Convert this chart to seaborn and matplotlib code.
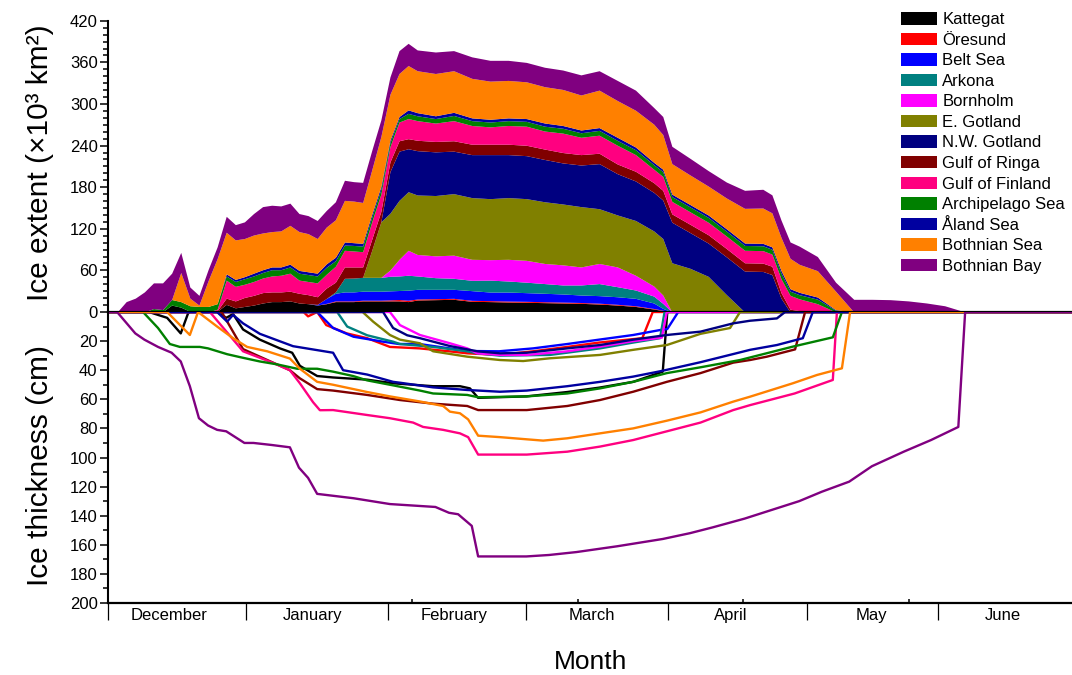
import matplotlib
matplotlib.use("Agg")
import numpy as np
import pandas as pd
import matplotlib.pyplot as plt
from matplotlib.patches import Patch
from matplotlib.ticker import MultipleLocator, FixedLocator, NullFormatter
import seaborn as sns

# ---------------------------------------------------------------- basins
basins = ["Kattegat", "Öresund", "Belt Sea", "Arkona", "Bornholm", "E. Gotland",
          "N.W. Gotland", "Gulf of Ringa", "Gulf of Finland", "Archipelago Sea",
          "Åland Sea", "Bothnian Sea", "Bothnian Bay"]
colors = ["#000000", "#FF0000", "#0000FF", "#008080", "#FF00FF", "#808000",
          "#000080", "#800000", "#FF0080", "#008000", "#0000A0", "#FF8000", "#800080"]

# ------------------------------------------- ice extent (10^3 km^2) per basin
# days counted from 1 December
ext_day = [0, 2, 4, 6, 8, 10, 12, 14, 16, 18, 20, 22, 24, 26, 28, 30, 32, 34, 36, 38,
           40, 42, 44, 46, 48, 50, 52, 54, 56, 58, 60, 62, 64, 66,
           68, 72, 76, 80, 84, 88, 92, 96, 100, 104, 108, 112, 116, 120,
           122, 124, 128, 132, 136, 140, 144, 146, 148, 150, 152,
           156, 160, 164, 168, 172, 176, 180, 184, 188, 190]

ext_kattegat = [0, 0, 0, 0, 0, 2, 0.5, 10, 7, 1, 0, 0, 1, 11, 6, 8, 10, 13, 15, 15,
                16, 13, 12, 10, 12, 15, 15, 15, 16, 16, 16, 16, 16, 15,
                17.3, 17.8, 18.3, 15.4, 15, 14.4, 14, 13.5, 13, 12.5, 11.5, 10, 8, 4.3,
                2, 0, 0, 0, 0, 0, 0, 0, 0, 0, 0,
                0, 0, 0, 0, 0, 0, 0, 0, 0, 0]
ext_oresund = [0] * 24 + [0.5, 1, 1, 1, 1, 1, 1, 1.5, 2, 2] + \
              [1.4, 1.4, 1.4, 1.4, 1.4, 1.4, 1.4, 1.3, 1.3, 1.2, 1.2, 1.1, 1, 0.8] + \
              [0.5] + [0] * 20
ext_belt = [0] * 23 + [1, 7, 11, 13, 13, 13, 13, 13, 13, 13, 14.5] + \
           [14, 13.5, 13, 14, 12.4, 13, 12.5, 12.2, 11.7, 10.8, 10.9, 10.9, 10.7, 7.9] + \
           [2.8] + [0] * 20
ext_arkona = [0] * 25 + [2, 19.6, 20, 20, 20, 20, 21, 21, 21.5] + \
             [19.3, 16.8, 15.9, 14.9, 17.2, 15.9, 15.1, 14, 13, 14.5, 17.4, 14.5, 12, 10] + \
             [7.2] + [0] * 20
ext_bornholm = [0] * 31 + [9, 24, 36] + \
               [31, 31.5, 33.4, 30.3, 29.5, 31.3, 31.5, 29, 29, 26, 29, 28.5, 21.3, 14.5] + \
               [12] + [0] * 20
ext_egotland = [0] * 29 + [39, 80, 82, 85, 84.5] + \
               [85.8, 87, 88.7, 89, 88, 89, 89, 89, 87.8, 87, 79, 75, 79, 79.5] + \
               [81.5, 71, 63, 51.4, 25, 0, 0] + [0] * 14
ext_nwgotland = [0] * 31 + [60, 71, 62] + \
                [63.9, 63, 61.3, 62, 63.5, 62, 62, 61, 59.2, 60, 65, 59.5, 57, 55.6] + \
                [55.5, 58.5, 51.5, 48, 54.5, 59, 58.5, 54, 20, 0, 0] + [0] * 10
ext_riga = [0] * 12 + [1, 9, 10, 13, 14, 15, 14, 14, 14, 14, 13, 11, 15, 14, 16.4, 16,
                       15, 16, 15, 14, 15, 14.5] + \
           [15, 15, 15, 15, 15, 15, 15, 15, 15, 15, 15, 14, 14, 14] + \
           [14, 12, 12, 12, 12, 12, 12, 12, 8, 4, 2] + [0] * 10
ext_finland = [0] * 12 + [2, 26, 21, 19, 20, 21, 23, 24, 26, 19, 19, 20, 20, 23, 24, 23,
                          22, 25, 25, 22, 27, 29] + \
              [28.3, 26.5, 29, 27, 25, 27, 27.5, 26, 28, 25, 26, 27, 24, 19.4] + \
              [20, 18, 18, 18, 18, 18, 18, 17.5, 20, 20, 17] + [12] + [0] * 9
ext_archipelago = [0] * 5 + [3, 3, 8, 8, 8, 8, 8, 8, 6, 7, 8, 8, 8, 9, 8, 9, 10, 10, 10,
                             10, 8, 7.6, 8, 8, 7, 7, 6, 5, 7.5] + \
                  [7, 6.5, 7.5, 7, 7, 7, 7, 7, 7, 6.5, 7, 7, 7, 6.5] + \
                  [7, 7, 7, 7, 7, 7, 7, 7, 8, 6, 6] + [6.5, 2.5] + [0] * 8
ext_aland = [0] * 13 + [3, 3, 3, 4, 4, 4, 4, 4, 4, 4, 4, 5, 5, 4.4, 4, 4, 4, 4, 3.5, 3, 5] + \
            [4.5, 4, 4.5, 4, 4, 4, 4, 4.6, 4, 4, 4, 4.5, 4, 3.5] + \
            [3.5, 3.5, 3.5, 3.5, 3.5, 3.5, 3.5, 3.5, 4, 3.6, 3.4] + [3.1, 0.9] + [0] * 8
ext_bothnian_sea = [0] * 8 + [42, 11, 2, 37, 65, 60, 57, 55, 55, 53, 51, 52, 56, 56, 55,
                              50, 53, 54, 60, 60, 59, 64, 72, 66, 62, 64] + \
                   [60.5, 61, 60, 57, 55, 54, 53, 52.4, 52, 50.5, 54, 53, 53, 55] + \
                   [50, 44, 42.6, 41.7, 44.4, 50, 51, 49, 47.7, 43.8, 40.4] + \
                   [38, 26.6] + [0] * 8
ext_bothnian_bay = [0, 0, 15, 20, 29, 37, 38.5, 38, 29, 16, 14, 16, 17, 23, 22, 24, 31, 38,
                    38, 36, 32, 26, 26, 26, 24, 26, 29, 28, 29, 28, 24, 25, 33, 32] + \
                   [30, 31, 29, 31, 30, 29, 28, 28, 28, 29, 28, 29, 29, 24] + \
                   [26, 25, 24, 22.3, 23, 26, 27, 26, 25, 23.6, 26.2] + \
                   [20.4, 13, 18.3, 18.3, 17.8, 16, 13, 9, 1, 0]

extent = [ext_kattegat, ext_oresund, ext_belt, ext_arkona, ext_bornholm, ext_egotland,
          ext_nwgotland, ext_riga, ext_finland, ext_archipelago, ext_aland,
          ext_bothnian_sea, ext_bothnian_bay]

# ------------------------------------------------ ice thickness (cm) per basin
thk_kattegat_day = [0, 9, 13, 16, 17.6, 18, 24, 26, 27.5, 29.7, 33.4, 37.8, 40.5, 42.2, 46,
                    49.5, 57, 62.7, 71.5, 77.4, 79.6, 81.4, 92, 101, 108, 115.5, 122, 123, 212]
thk_kattegat = [0, 0, 4, 14.7, 1, 0, 0, 4, 1.4, 12, 19, 25, 28, 37, 44,
                45, 46.5, 49, 51, 51, 52.5, 59, 58, 55, 52, 48, 41, 0, 0]
thk_oresund_day = [0, 43, 44, 46, 48, 52.5, 57, 62, 68.5, 75, 79, 86, 93.5, 101, 108,
                   117.5, 119.8, 212]
thk_oresund = [0, 0, 3, 0, 9, 14.7, 18, 24, 25, 27, 28.4, 29.5, 27, 24, 21, 18, 0, 0]
thk_belt_day = [0, 46, 49.5, 54, 60.5, 64, 68.5, 79, 86, 93.5, 101, 108, 115.5, 121.4,
                123, 125.4, 212]
thk_belt = [0, 0, 11, 17, 20.4, 22, 22, 26.8, 27, 25, 22, 19, 15.8, 12.4, 11.7, 0, 0]
thk_arkona_day = [0, 50.4, 52.6, 57, 62.7, 64.2, 71.5, 79, 81.2, 86.2, 97.2, 108.2, 115.5,
                  121.4, 122.4, 212]
thk_arkona = [0, 0, 10, 16, 20.4, 22, 24, 27, 28.4, 30, 29.5, 25, 21, 18, 0, 0]
thk_bornholm_day = [0, 62, 64.2, 66.4, 68.6, 75.2, 79, 81.2, 86.2, 92.1, 101, 108.2, 115.5,
                    121.8, 122.9, 212]
thk_bornholm = [0, 0, 9, 12.4, 15.8, 21.5, 25, 28.4, 29.5, 29.5, 27, 23.8, 20, 17.6, 0, 0]
thk_egotland_day = [0, 56, 58.3, 62, 64.2, 68.6, 71.5, 79, 86.2, 91.3, 97.2, 108.2, 115.5,
                    122.9, 130.3, 136.8, 139, 212]
thk_egotland = [0, 0, 6.6, 15.8, 19, 21.5, 27, 30.7, 33, 33.7, 31.8, 29.5, 26, 22.7, 15,
                11, 0, 0]
thk_nwgotland_day = [0, 60.5, 62.7, 65.8, 68.6, 75.2, 81.2, 86.2, 92.1, 101, 108.2, 115.5,
                     122.9, 130.3, 137.5, 141.2, 147.1, 148.9, 212]
thk_nwgotland = [0, 0, 11, 16, 18, 23.4, 27, 28.4, 28, 25, 22.7, 19, 15.8, 13.5, 7.8, 6,
                 4.4, 0, 0]
thk_riga_day = [0, 25, 29.7, 40, 42.2, 46, 49.5, 57, 64.2, 71.5, 79, 81.4, 92.1, 101, 108.2,
                115.5, 122.9, 130.3, 137.5, 141.2, 144.9, 151.1, 153.3, 212]
thk_riga = [0, 0, 25.5, 40, 45.6, 53, 54, 57, 60.5, 63, 64.6, 67.4, 67.4, 64.6, 60.5, 54.8,
            48, 42, 34.8, 33, 30.7, 25.7, 0, 0]
thk_finland_day = [0, 22.4, 29.7, 36.3, 40, 42.2, 45.1, 46.6, 49.5, 57, 62, 67.1, 69.3,
                   73.7, 77.4, 79.2, 81.4, 92.1, 101, 108.2, 115.5, 122.9, 130.3, 137.5,
                   141.2, 151, 159.4, 160.3, 212]
thk_finland = [0, 0, 27, 35, 40, 49, 62, 67.5, 67.4, 70.8, 73, 76, 79, 81, 83.4, 86, 98, 98,
               96, 92.5, 88, 82, 76, 67.4, 64, 56, 46.7, 0, 0]
thk_archipelago_day = [0, 7.7, 11, 13.6, 15.8, 20.2, 22, 26.2, 29, 33.4, 37.2, 41.6, 46,
                       49.5, 53.9, 57, 62, 68.6, 71.5, 79, 81.4, 92.1, 101, 108.2, 115.5,
                       122.9, 130.3, 139, 150.6, 159.4, 161.4, 212]
thk_archipelago = [0, 0, 11, 22, 24, 24, 25, 29, 31, 34, 36, 39, 39, 41, 44, 47, 50, 54, 56,
                   57, 58.6, 58, 56, 52.5, 48, 42, 38, 33, 23.8, 17.4, 0, 0]
thk_aland_day = [0, 24, 26.2, 27.5, 29.7, 33.4, 40.7, 49.5, 51.7, 57, 62.7, 64.2, 71.5, 79,
                 86.2, 92.1, 101, 108.2, 115.5, 121.8, 130.3, 137.5, 141.2, 147.1, 152.8,
                 155, 212]
thk_aland = [0, 0, 6.6, 2, 7.8, 15, 23.5, 28, 40, 43, 48, 48.6, 51.8, 53.6, 54.8, 54, 51,
             48, 44.4, 40.5, 34.5, 28.9, 26, 22.7, 18, 0, 0]
thk_bothnian_sea_day = [0, 13, 18, 19.8, 24, 27.5, 30.6, 35, 40, 42.2, 46, 49.5, 57, 62,
                        68.6, 73.7, 75.2, 77.4, 79.2, 81.4, 86.2, 92.1, 95.7, 101, 108.2,
                        115.5, 122.9, 130.3, 137.5, 141.2, 150.6, 155.9, 161.4, 163.2, 212]
thk_bothnian_sea = [0, 0, 15.8, 0, 10, 18, 24, 27, 32, 39, 48, 50, 55, 58, 61.5, 64.6, 68.5,
                    69.6, 73.8, 85, 86, 87.5, 88.4, 86.8, 83.4, 80, 74.7, 69, 61.6, 58.2,
                    49, 43.3, 38.7, 0, 0]
thk_bothnian_bay_day = [0, 2, 6, 8, 11, 14, 16, 18, 20, 22, 24, 26, 28, 30, 32, 36, 40, 42,
                        44, 46, 50, 54, 58, 62, 67, 72, 75, 77, 80, 81.4, 92, 97, 103, 112,
                        122, 128, 133, 140, 145, 152, 157, 163, 168, 175, 181, 187, 188.5,
                        212]
thk_bothnian_bay = [0, 0, 14.7, 19, 24, 28, 34, 51, 73, 78, 81, 82, 86, 90, 90, 91.4, 93,
                    107, 114, 125, 126.5, 128, 130, 132, 133, 134, 138, 139, 147, 168, 168,
                    167, 165, 161, 156, 152, 148, 142, 137, 130, 123.5, 116.6, 106, 96, 88,
                    79, 0, 0]

thickness = [(thk_kattegat_day, thk_kattegat), (thk_oresund_day, thk_oresund),
             (thk_belt_day, thk_belt), (thk_arkona_day, thk_arkona),
             (thk_bornholm_day, thk_bornholm), (thk_egotland_day, thk_egotland),
             (thk_nwgotland_day, thk_nwgotland), (thk_riga_day, thk_riga),
             (thk_finland_day, thk_finland), (thk_archipelago_day, thk_archipelago),
             (thk_aland_day, thk_aland), (thk_bothnian_sea_day, thk_bothnian_sea),
             (thk_bothnian_bay_day, thk_bothnian_bay)]

# ------------------------------------------------------------- time axis
month_names = ["December", "January", "February", "March", "April", "May", "June"]
month_start = [0, 30.3, 61.6, 91.9, 123.2, 153.7, 182.5]
month_label_day = [13.5, 45.1, 76.2, 106.4, 137.0, 167.9, 196.9]
chart_marks = [30.3, 66.8, 103.3, 139.7, 176.2]

# ------------------------------------------------------------- styling
sns.set_theme(style="ticks", rc={
    "axes.edgecolor": "black", "xtick.color": "black", "ytick.color": "black",
    "text.color": "black", "axes.labelcolor": "black",
})
plt.rcParams["font.family"] = ["Liberation Sans", "DejaVu Sans"]

W, H = 1072, 675
fig = plt.figure(figsize=(W / 100, H / 100), dpi=100)
left = 108 / W
ax_top = fig.add_axes([left, 1 - 312 / H, 1 - left, (312 - 20.8) / H])
ax_bot = fig.add_axes([left, 1 - 603 / H, 1 - left, 291 / H])

# ---------------------------------------------------- upper panel: extent
ax_top.stackplot(ext_day, *extent, colors=colors, linewidth=0)
ax_top.set_xlim(0, 212)
ax_top.set_ylim(0, 420)
ax_top.set_yticks(np.arange(0, 421, 60))
ax_top.yaxis.set_minor_locator(MultipleLocator(10))
ax_top.set_xticks([])
for s in ("top", "right"):
    ax_top.spines[s].set_visible(False)
ax_top.spines["left"].set_linewidth(1.5)
ax_top.spines["bottom"].set_linewidth(1.6)
ax_top.tick_params(axis="y", which="major", direction="out", length=5.5, width=1.1,
                   pad=2, labelsize=12)
ax_top.tick_params(axis="y", which="minor", direction="out", length=3.5, width=1.1)

# ---------------------------------------------------- lower panel: thickness
frames = [pd.DataFrame({"day": d, "cm": v, "basin": name})
          for name, (d, v) in zip(basins, thickness)]
thk_df = pd.concat(frames, ignore_index=True)
sns.lineplot(data=thk_df, x="day", y="cm", hue="basin", hue_order=basins,
             palette=colors, estimator=None, sort=False, linewidth=1.7,
             legend=False, ax=ax_bot)
ax_bot.set_xlim(0, 212)
ax_bot.set_ylim(200, 0)
ax_bot.set_yticks(np.arange(20, 201, 20))
ax_bot.yaxis.set_minor_locator(FixedLocator(np.arange(10, 200, 20)))
ax_bot.set_xlabel("")
ax_bot.set_ylabel("")
for s in ("top", "right"):
    ax_bot.spines[s].set_visible(False)
ax_bot.spines["left"].set_linewidth(1.5)
ax_bot.spines["bottom"].set_linewidth(1.6)
ax_bot.tick_params(axis="y", which="major", direction="out", length=5.5, width=1.1,
                   pad=2, labelsize=12)
ax_bot.tick_params(axis="y", which="minor", direction="out", length=3.5, width=1.1)

ax_bot.set_xticks(month_start)
ax_bot.xaxis.set_major_formatter(NullFormatter())
ax_bot.xaxis.set_minor_locator(FixedLocator(chart_marks))
ax_bot.xaxis.set_minor_formatter(NullFormatter())
ax_bot.tick_params(axis="x", which="major", direction="out", length=12, width=0.9)
ax_bot.tick_params(axis="x", which="minor", direction="in", length=3, width=1.1)

xt = ax_bot.get_xaxis_transform()
for name, d in zip(month_names, month_label_day):
    ax_bot.text(d, -0.016, name, transform=xt, ha="center", va="top", fontsize=12)

# ------------------------------------------------------------- labels
fig.text(40 / W, 1 - 163 / H, "Ice extent (×10³ km²)", rotation=90,
         ha="center", va="center", fontsize=21.5)
fig.text(40 / W, 1 - 466 / H, "Ice thickness (cm)", rotation=90,
         ha="center", va="center", fontsize=21.5)
fig.text(591 / W, 1 - 662 / H, "Month", ha="center", va="center", fontsize=19)

# ------------------------------------------------------------- legend
handles = [Patch(facecolor=c, edgecolor="none") for c in colors]
fig.legend(handles, basins, loc="upper left",
           bbox_to_anchor=(900.7 / W, 1 - 12.0 / H), bbox_transform=fig.transFigure,
           frameon=False, fontsize=12, borderpad=0, borderaxespad=0,
           handlelength=2.2, handleheight=0.78, handletextpad=0.3, labelspacing=0.33)

fig.savefig("out.png", dpi=100)
